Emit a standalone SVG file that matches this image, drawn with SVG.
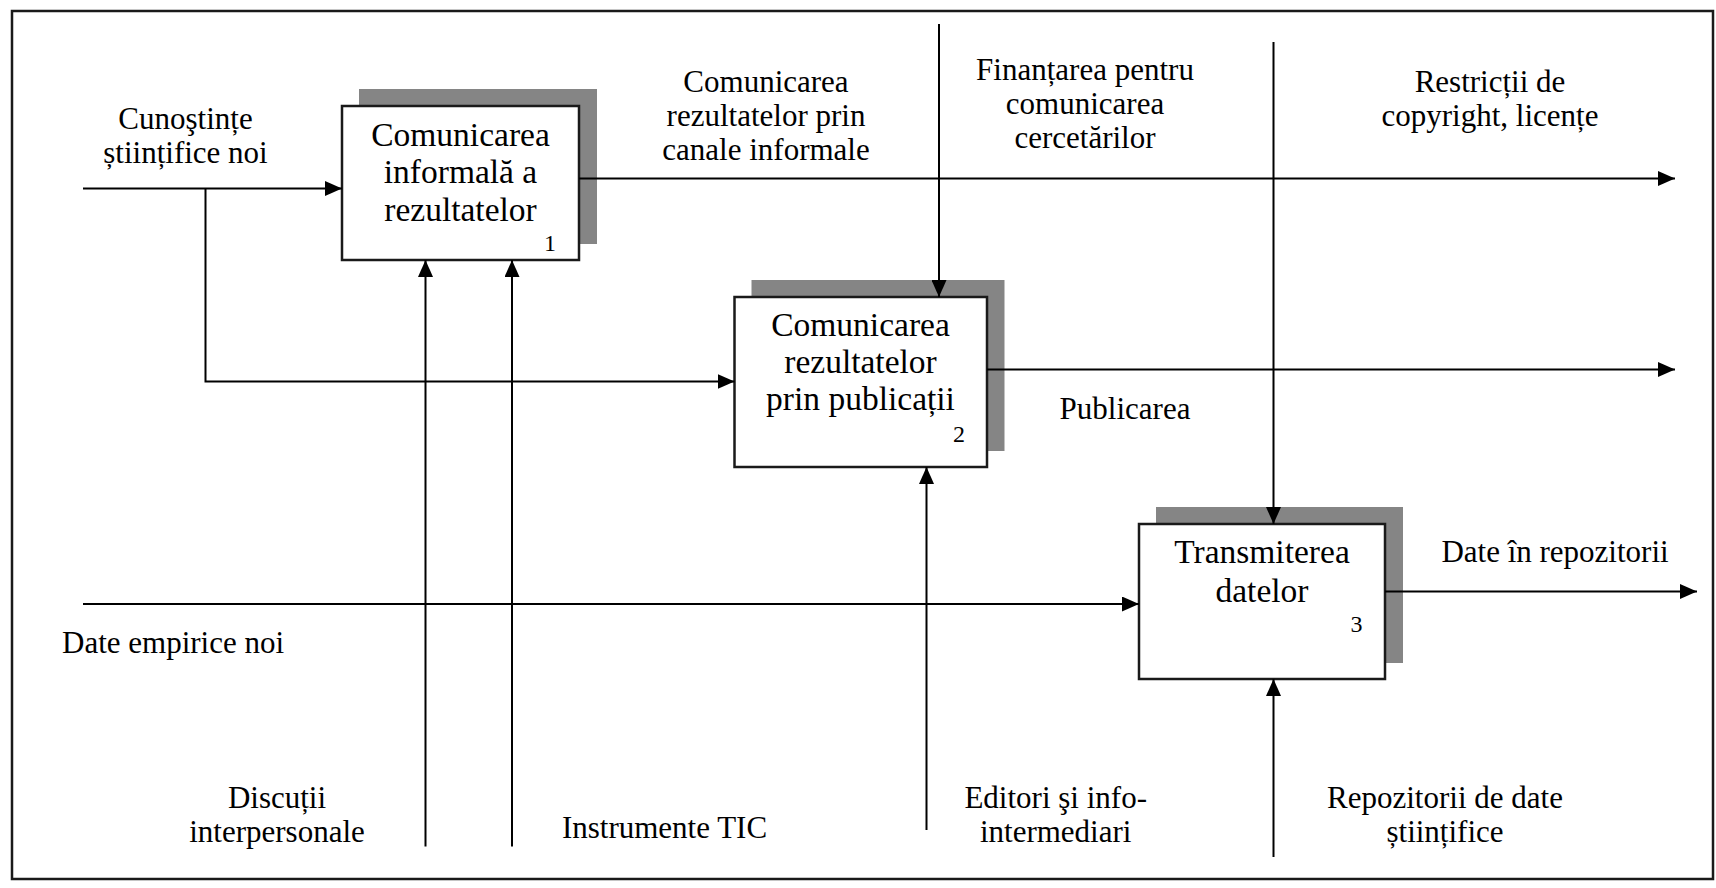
<svg xmlns="http://www.w3.org/2000/svg" width="1716" height="888" viewBox="0 0 1716 888">
<style>
.lbl{font-family:"Liberation Serif","Times New Roman",serif;font-size:31px;fill:#000;text-anchor:middle}
.bt{font-family:"Liberation Serif","Times New Roman",serif;font-size:33.5px;fill:#000;text-anchor:middle}
.num{font-family:"Liberation Serif","Times New Roman",serif;font-size:24px;fill:#000;text-anchor:end}
.box{fill:#fff;stroke:#1a1a1a;stroke-width:2.5}
.sh{fill:#858585}
.ln{fill:none;stroke:#000;stroke-width:2}
</style>
<defs>
<marker id="ah" markerUnits="userSpaceOnUse" markerWidth="17" markerHeight="15" refX="17" refY="7.5" orient="auto">
<path d="M0,0 L17,7.5 L0,15 z" fill="#000"/>
</marker>
</defs>
<rect width="1716" height="888" fill="#fff"/>
<rect id="frame" x="12" y="11" width="1701" height="868" fill="none" stroke="#1a1a1a" stroke-width="2.5"/>

<g id="node1">
<rect class="sh" x="359" y="89" width="238" height="155"/>
<rect class="box" x="342" y="106" width="237" height="154"/>
<text class="bt" x="460.5" y="146">Comunicarea</text>
<text class="bt" x="460.5" y="183.3">informală a</text>
<text class="bt" x="460.5" y="220.7">rezultatelor</text>
<text class="num" x="556" y="250.7">1</text>
</g>

<g id="node2">
<rect class="sh" x="751.5" y="280" width="253" height="171"/>
<rect class="box" x="734.5" y="297" width="252.5" height="170"/>
<text class="bt" x="860.5" y="336">Comunicarea</text>
<text class="bt" x="860.5" y="373">rezultatelor</text>
<text class="bt" x="860.5" y="410">prin publicații</text>
<text class="num" x="965" y="441.7">2</text>
</g>

<g id="node3">
<rect class="sh" x="1156" y="507" width="247" height="156"/>
<rect class="box" x="1139" y="524" width="246" height="155"/>
<text class="bt" x="1262" y="563.3">Transmiterea</text>
<text class="bt" x="1262" y="601.7">datelor</text>
<text class="num" x="1362.5" y="631.7">3</text>
</g>

<g id="connectors">
<path class="ln" d="M83 188.5 H342" marker-end="url(#ah)"/>
<path class="ln" d="M205.5 188.5 V381.5 H734.5" marker-end="url(#ah)"/>
<path class="ln" d="M579 178.5 H1675" marker-end="url(#ah)"/>
<path class="ln" d="M987 369.5 H1675" marker-end="url(#ah)"/>
<path class="ln" d="M83 604 H1139" marker-end="url(#ah)"/>
<path class="ln" d="M1385 591.5 H1697" marker-end="url(#ah)"/>
<path class="ln" d="M939 24 V297" marker-end="url(#ah)"/>
<path class="ln" d="M1273.5 42 V524" marker-end="url(#ah)"/>
<path class="ln" d="M425.5 846.5 V260" marker-end="url(#ah)"/>
<path class="ln" d="M512 846.5 V260" marker-end="url(#ah)"/>
<path class="ln" d="M926.5 830 V467" marker-end="url(#ah)"/>
<path class="ln" d="M1273.5 857 V679" marker-end="url(#ah)"/>
</g>

<g id="labels">
<text class="lbl" x="185.5" y="129.3">Cunoştințe</text>
<text class="lbl" x="185.5" y="163.3">științifice noi</text>
<text class="lbl" x="766" y="91.7">Comunicarea</text>
<text class="lbl" x="766" y="126">rezultatelor prin</text>
<text class="lbl" x="766" y="160">canale informale</text>
<text class="lbl" x="1085" y="80">Finanțarea pentru</text>
<text class="lbl" x="1085" y="114.3">comunicarea</text>
<text class="lbl" x="1085" y="147.7">cercetărilor</text>
<text class="lbl" x="1490" y="91.7">Restricții de</text>
<text class="lbl" x="1490" y="126">copyright, licențe</text>
<text class="lbl" x="1125" y="419.3">Publicarea</text>
<text class="lbl" x="1555" y="561.7">Date în repozitorii</text>
<text class="lbl" x="62" y="653.3" style="text-anchor:start">Date empirice noi</text>
<text class="lbl" x="277" y="808.3">Discuții</text>
<text class="lbl" x="277" y="841.7">interpersonale</text>
<text class="lbl" x="664.5" y="838.3">Instrumente TIC</text>
<text class="lbl" x="1055.7" y="808.3">Editori şi info-</text>
<text class="lbl" x="1055.7" y="841.7">intermediari</text>
<text class="lbl" x="1445" y="808.3">Repozitorii de date</text>
<text class="lbl" x="1445" y="841.7">științifice</text>
</g>
</svg>
